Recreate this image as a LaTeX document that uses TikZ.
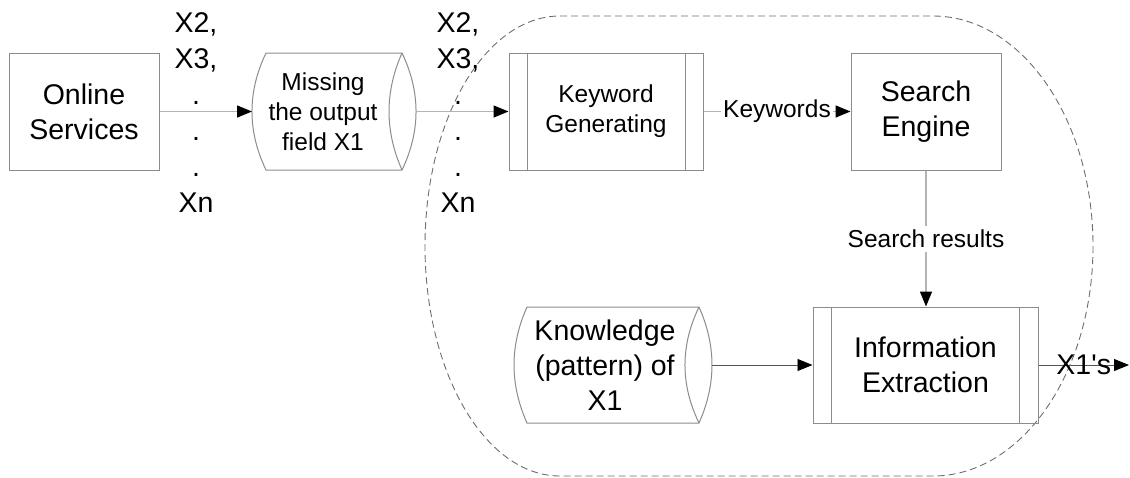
\documentclass[tikz,border=0pt]{standalone}
\usepackage{fontspec}
\setmainfont{Liberation Sans}[Ligatures=TeXOff]
\usetikzlibrary{arrows.meta}

\definecolor{edgegray}{RGB}{140,140,140}
\definecolor{linkgray}{RGB}{180,180,180}
\definecolor{darklink}{RGB}{85,85,85}
\definecolor{zonegray}{RGB}{110,110,110}

\begin{document}
\begin{tikzpicture}[x=1pt,y=-1pt,
  big/.style={font=\fontsize{28.5}{35}\selectfont, align=center, inner sep=0pt},
  small/.style={font=\fontsize{24.5}{30}\selectfont, align=center, inner sep=0pt},
  xlist/.style={font=\fontsize{28.5}{36}\selectfont, align=center, inner sep=0pt},
  outline/.style={draw=edgegray, line width=1pt},
  boxnode/.style={outline, minimum width=150pt, minimum height=117pt, inner sep=0pt},
  area/.style={inner sep=0pt, outer sep=0pt},
  tip/.style={-{Triangle[length=15pt, width=12pt, color=black]}},
  flow/.style={draw=linkgray, line width=1.5pt, tip},
  darkflow/.style={draw=darklink, line width=0.9pt, tip},
  zone/.style={draw=zonegray, line width=0.9pt, dash pattern=on 7pt off 4pt},
]
\useasboundingbox (0,0) rectangle (1130,477);

% dashed boundary of the keyword / extraction stage
\draw[zone] (560,16) -- (933,16)
  arc[start angle=-90, end angle=90, x radius=160, y radius=230]
  -- (560,476)
  arc[start angle=90, end angle=270, x radius=135, y radius=230] -- cycle;

% top row
\node[boxnode, big] (online) at (84,111.5) {Online\\Services};

\draw[outline] (266,53) -- (402,53)
  .. controls (420.7,92) and (420.7,131) .. (402,170)
  -- (266,170)
  .. controls (247.3,131) and (247.3,92) .. (266,53) -- cycle;
\draw[outline] (402,53) .. controls (384.7,92) and (384.7,131) .. (402,170);
\node[area, minimum width=164pt, minimum height=117pt] (miss) at (334,111.5) {};
\node[small] (misstext) at (323,111.5) {Missing\\the output\\field X1};

\node[boxnode, small, minimum width=194pt] (kw) at (606,111.5) {Keyword\\Generating};
\draw[outline] ([xshift=19pt]kw.north west) -- ([xshift=19pt]kw.south west);
\draw[outline] ([xshift=-18pt]kw.north east) -- ([xshift=-18pt]kw.south east);

\node[boxnode, big] (search) at (926,111.5) {Search\\Engine};

% bottom row
\draw[outline] (527,307) -- (699,307)
  .. controls (716.3,345.7) and (716.3,384.3) .. (699,423)
  -- (527,423)
  .. controls (509.7,384.3) and (509.7,345.7) .. (527,307) -- cycle;
\draw[outline] (699,307) .. controls (680.3,345.7) and (680.3,384.3) .. (699,423);
\node[area, minimum width=198pt, minimum height=116pt] (know) at (613,365) {};
\node[big] (knowtext) at (605,365) {Knowledge\\(pattern) of\\X1};

\node[boxnode, big, minimum width=225pt, minimum height=116pt] (info) at (925.5,365) {Information\\Extraction};
\draw[outline] ([xshift=19pt]info.north west) -- ([xshift=19pt]info.south west);
\draw[outline] ([xshift=-19pt]info.north east) -- ([xshift=-19pt]info.south east);

\coordinate (out) at (1129,365);

% field lists on the first two links
\node[xlist] (fields1) at (196,113) {X2,\\X3,\\.\\.\\.\\Xn};
\node[xlist] (fields2) at (458,113) {X2,\\X3,\\.\\.\\.\\Xn};

% connectors
\draw[flow] (online) -- (miss);
\draw[flow] (miss) -- (kw);
\draw[flow] (kw) -- node[small, fill=white, inner xsep=2pt] (kwlabel) {Keywords} (search);
\draw[flow] (search.south) -- node[small, fill=white, inner ysep=4pt] (srlabel) {Search results} (search.south |- info.north);
\draw[darkflow] (know) -- (info);
\draw[darkflow] (info) -- node[big] (outlabel) {X1's} (out);
\end{tikzpicture}
\end{document}
